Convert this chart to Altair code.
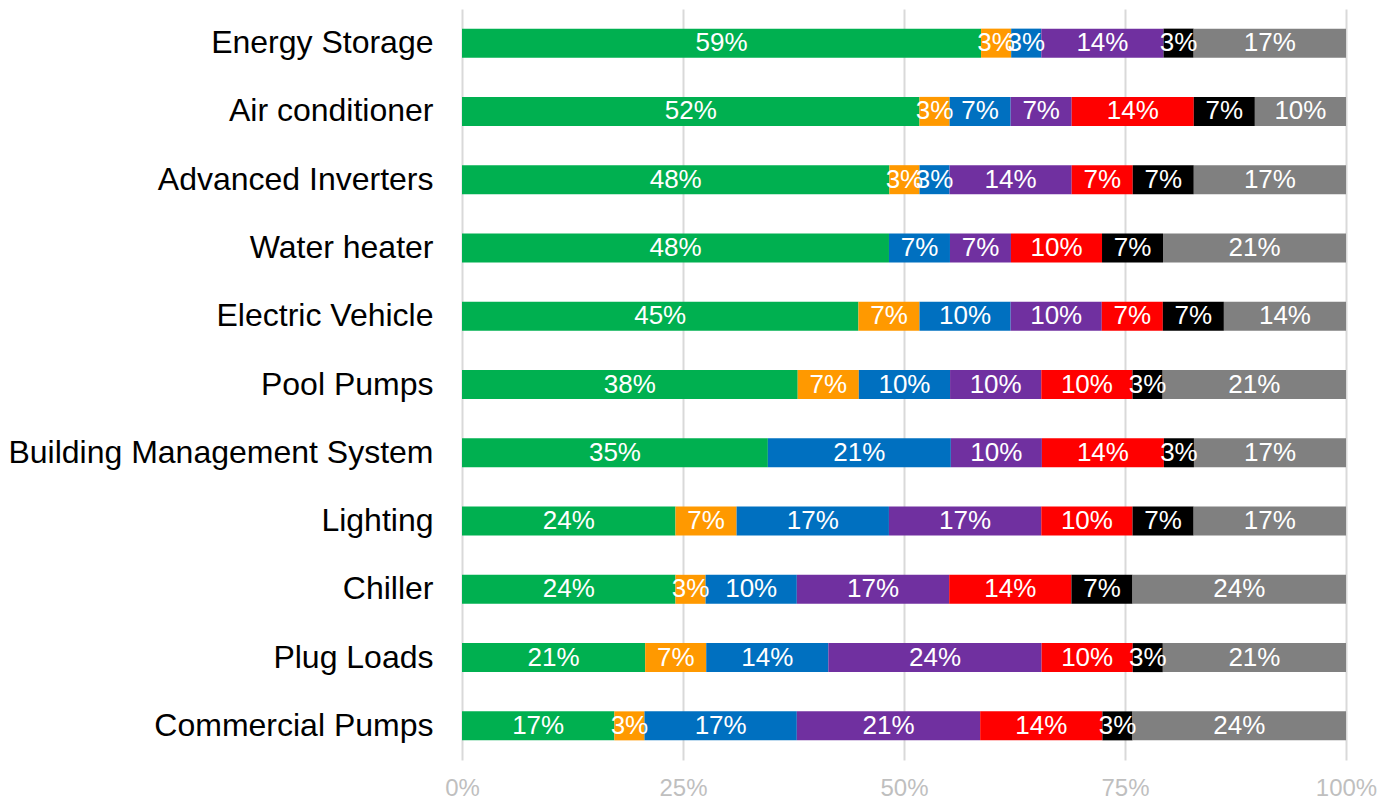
import altair as alt
import pandas as pd

categories = [
    "Energy Storage", "Air conditioner", "Advanced Inverters", "Water heater",
    "Electric Vehicle", "Pool Pumps", "Building Management System", "Lighting",
    "Chiller", "Plug Loads", "Commercial Pumps",
]
series = ["S1", "S2", "S3", "S4", "S5", "S6", "S7"]
colors = ["#00B050", "#FF9900", "#0070C0", "#7030A0", "#FF0000", "#000000", "#808080"]

# share of responses (%) per category, one list per series
s1 = [58.6, 51.7, 48.3, 48.3, 44.8, 37.9, 34.6, 24.1, 24.1, 20.7, 17.2]
s2 = [3.4, 3.4, 3.4, 0.0, 6.9, 6.9, 0.0, 6.9, 3.4, 6.9, 3.4]
s3 = [3.4, 6.9, 3.4, 6.9, 10.3, 10.3, 20.7, 17.2, 10.3, 13.8, 17.2]
s4 = [13.8, 6.9, 13.8, 6.9, 10.3, 10.3, 10.3, 17.2, 17.2, 24.1, 20.7]
s5 = [0.0, 13.8, 6.9, 10.3, 6.9, 10.3, 13.8, 10.3, 13.8, 10.3, 13.8]
s6 = [3.4, 6.9, 6.9, 6.9, 6.9, 3.4, 3.4, 6.9, 6.9, 3.4, 3.4]
s7 = [17.2, 10.3, 17.2, 20.7, 13.8, 20.7, 17.2, 17.2, 24.1, 20.7, 24.1]

rows = []
for si, vals in enumerate([s1, s2, s3, s4, s5, s6, s7]):
    for ci, v in enumerate(vals):
        rows.append({"cat": categories[ci], "series": series[si], "order": si, "v": v})
df = pd.DataFrame(rows)

base = alt.Chart(df).transform_filter(alt.datum.v > 0).transform_joinaggregate(
    total="sum(v)", groupby=["cat"]
).transform_window(
    cum="sum(v)", sort=[alt.SortField("order")], groupby=["cat"], frame=[None, 0]
).transform_calculate(
    x0="(datum.cum - datum.v) / datum.total",
    x1="datum.cum / datum.total",
    mid="(datum.cum - datum.v / 2) / datum.total",
    label="format(datum.v, '.0f') + '%'",
)

y = alt.Y(
    "cat:N", sort=categories, title=None,
    scale=alt.Scale(paddingInner=0.575, paddingOuter=0.2875),
    axis=alt.Axis(labelFontSize=32, labelFont="Liberation Sans", labelColor="#000000",
                  ticks=False, domain=False, labelPadding=29, labelLimit=0),
)

bars = base.mark_bar().encode(
    x=alt.X("x0:Q", scale=alt.Scale(domain=[0, 1], nice=False),
            axis=alt.Axis(format="%", values=[0, 0.25, 0.5, 0.75, 1], labelFontSize=24,
                          labelFont="Liberation Sans", labelColor="#BFBFBF", ticks=False,
                          domain=False, grid=True, gridColor="#D9D9D9", gridWidth=2,
                          labelPadding=16, labelFlush=False, title=None)),
    x2="x1:Q",
    y=y,
    color=alt.Color("series:N", scale=alt.Scale(domain=series, range=colors), legend=None),
)

text = base.mark_text(color="white", fontSize=26, font="Liberation Sans").encode(
    x="mid:Q",
    y=alt.Y("cat:N", sort=categories),
    text="label:N",
)

chart = (bars + text).properties(
    width=884, height=751,
    padding={"left": 454, "top": 1, "right": 31, "bottom": 40},
    autosize=alt.AutoSizeParams(type="none"),
).configure_view(stroke=None)

chart.save("out.html", embed_options={"renderer": "svg", "actions": False})
